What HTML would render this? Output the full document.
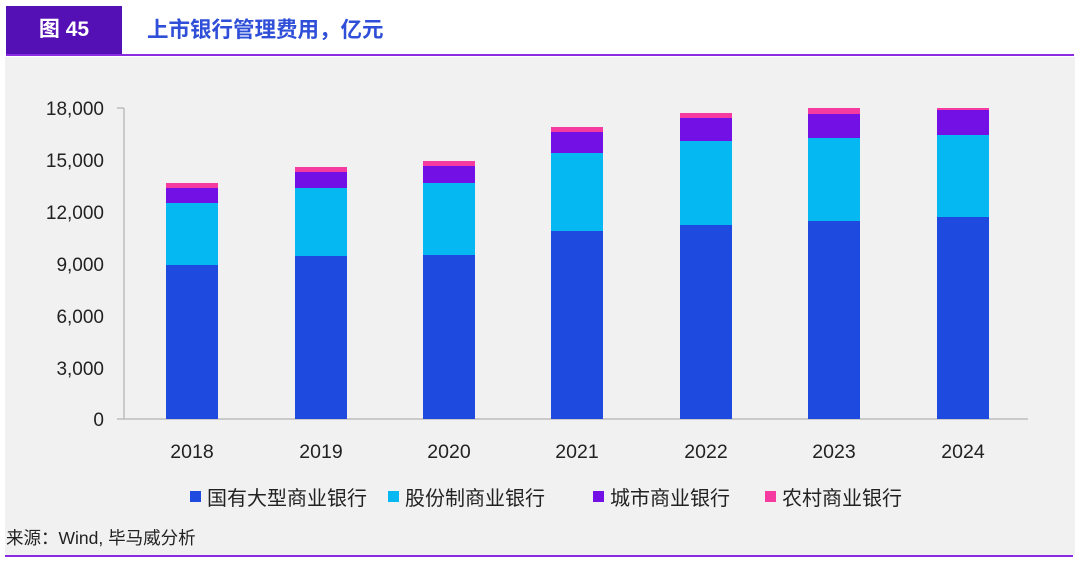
<!DOCTYPE html>
<html><head><meta charset="utf-8"><style>
body{margin:0;width:1080px;height:569px;background:#fff;position:relative;overflow:hidden;font-family:"Liberation Sans","Noto Sans CJK SC",sans-serif;}
.a{position:absolute}
</style></head><body>
<div class="a" style="left:6px;top:6px;width:116px;height:49px;background:#5510b5;"></div>
<div class="a" style="left:6px;top:16px;width:116px;text-align:center;color:#fff;font-weight:bold;font-size:21px;line-height:28px;">图 45</div>
<div class="a" style="left:147px;top:16px;color:#2f4fd8;font-weight:bold;font-size:21.5px;line-height:28px;">上市银行管理费用，亿元</div>
<div class="a" style="left:6px;top:54px;width:1068px;height:2px;background:#8a2be2;"></div>
<div class="a" style="left:5px;top:57px;width:1070px;height:498px;background:#f1f1f1;"></div>
<div class="a" style="left:5px;top:555px;width:1068px;height:2px;background:#8a2be2;"></div>
<svg class="a" style="left:0;top:0" width="1080" height="569" font-family="Liberation Sans, Noto Sans CJK SC, sans-serif">
<g stroke="#bdbdbd" stroke-width="1.5" fill="none">
<line x1="124" y1="108" x2="124" y2="419"/>
<line x1="117" y1="419" x2="1028" y2="419"/>
<line x1="117" y1="108" x2="124" y2="108"/>
</g>
<g font-size="19" fill="#222" text-anchor="end">
<text x="104" y="115">18,000</text><text x="104" y="167">15,000</text><text x="104" y="219">12,000</text>
<text x="104" y="271">9,000</text><text x="104" y="323">6,000</text><text x="104" y="375">3,000</text><text x="104" y="426">0</text>
</g>
<g font-size="19.5" fill="#222" text-anchor="middle">
<text x="192" y="458">2018</text><text x="321" y="458">2019</text><text x="449" y="458">2020</text><text x="577" y="458">2021</text><text x="706" y="458">2022</text><text x="834" y="458">2023</text><text x="963" y="458">2024</text>
</g>
<g font-size="20" fill="#222">
<rect x="190" y="491" width="11" height="11" fill="#1f4ae0"/><text x="207" y="505">国有大型商业银行</text>
<rect x="388" y="491" width="11" height="11" fill="#06b8f2"/><text x="405" y="505">股份制商业银行</text>
<rect x="593" y="491" width="11" height="11" fill="#7210e6"/><text x="610" y="505">城市商业银行</text>
<rect x="765" y="491" width="11" height="11" fill="#f63ba0"/><text x="782" y="505">农村商业银行</text>
</g>
<text x="6" y="544" font-size="17.5" fill="#222">来源：Wind, 毕马威分析</text>
<g>
<rect x="166" y="265" width="52" height="154" fill="#1f4ae0"/><rect x="166" y="203" width="52" height="62" fill="#06b8f2"/><rect x="166" y="188" width="52" height="15" fill="#7210e6"/><rect x="166" y="183" width="52" height="5" fill="#f63ba0"/>
<rect x="295" y="256" width="52" height="163" fill="#1f4ae0"/><rect x="295" y="188" width="52" height="68" fill="#06b8f2"/><rect x="295" y="172" width="52" height="16" fill="#7210e6"/><rect x="295" y="167" width="52" height="5" fill="#f63ba0"/>
<rect x="423" y="255" width="52" height="164" fill="#1f4ae0"/><rect x="423" y="183" width="52" height="72" fill="#06b8f2"/><rect x="423" y="166" width="52" height="17" fill="#7210e6"/><rect x="423" y="161" width="52" height="5" fill="#f63ba0"/>
<rect x="551" y="231" width="52" height="188" fill="#1f4ae0"/><rect x="551" y="153" width="52" height="78" fill="#06b8f2"/><rect x="551" y="132" width="52" height="21" fill="#7210e6"/><rect x="551" y="127" width="52" height="5" fill="#f63ba0"/>
<rect x="680" y="225" width="52" height="194" fill="#1f4ae0"/><rect x="680" y="141" width="52" height="84" fill="#06b8f2"/><rect x="680" y="118" width="52" height="23" fill="#7210e6"/><rect x="680" y="113" width="52" height="5" fill="#f63ba0"/>
<rect x="808" y="221" width="52" height="198" fill="#1f4ae0"/><rect x="808" y="138" width="52" height="83" fill="#06b8f2"/><rect x="808" y="114" width="52" height="24" fill="#7210e6"/><rect x="808" y="108" width="52" height="6" fill="#f63ba0"/>
<rect x="937" y="217" width="52" height="202" fill="#1f4ae0"/><rect x="937" y="135" width="52" height="82" fill="#06b8f2"/><rect x="937" y="110" width="52" height="25" fill="#7210e6"/><rect x="937" y="108" width="52" height="2" fill="#f63ba0"/>
</g>
</svg>
</body></html>
